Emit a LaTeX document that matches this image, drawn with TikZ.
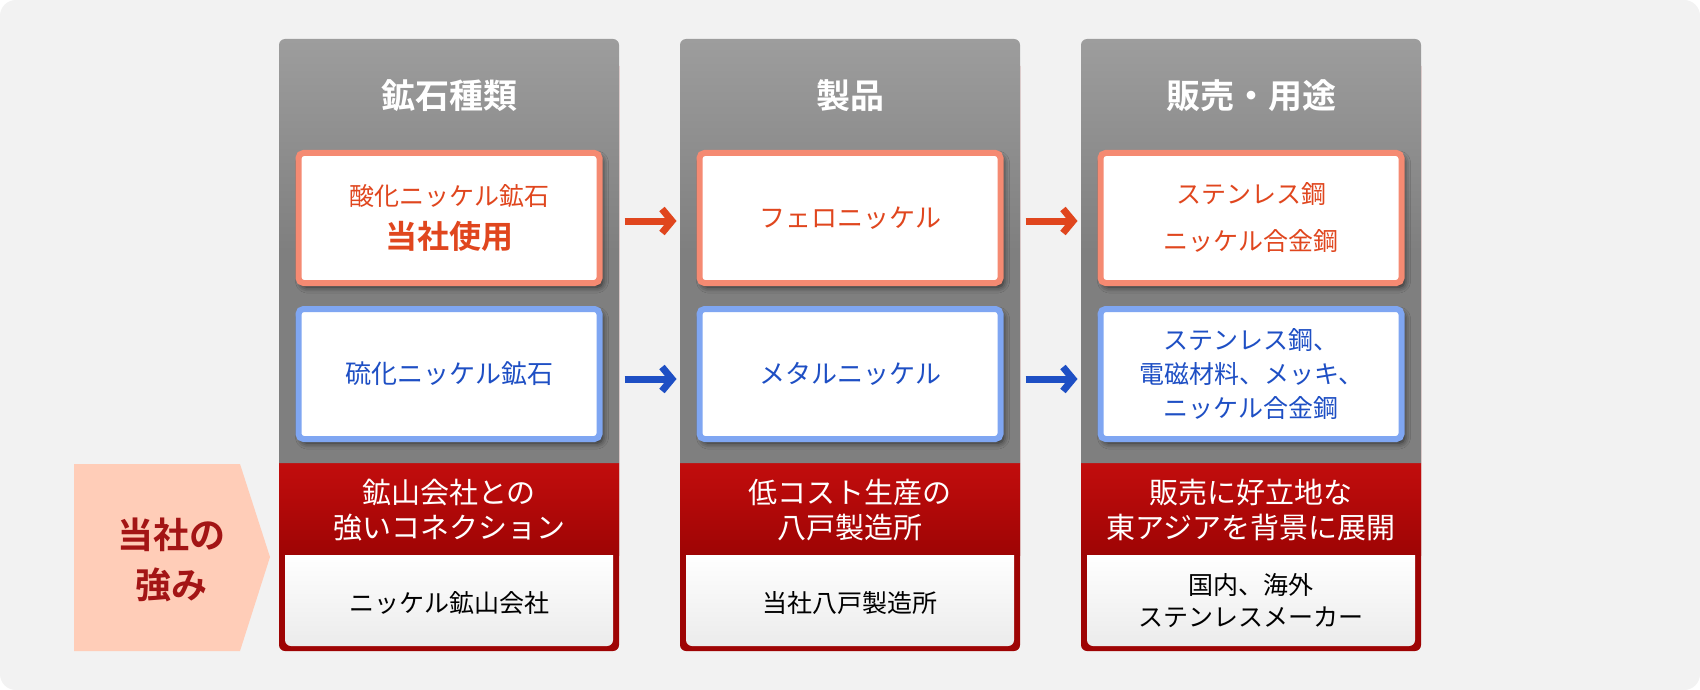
\documentclass[tikz,border=0pt]{standalone}
\usepackage{fontspec}
\setmainfont{Noto Sans CJK JP}[BoldFont={Noto Sans CJK JP Bold}]
\usetikzlibrary{arrows.meta,shadows.blur,calc}
\definecolor{bg}{HTML}{F2F2F2}
\definecolor{graytop}{HTML}{9D9D9D}
\definecolor{graybot}{HTML}{7F7F7F}
\definecolor{redtop}{HTML}{C20D0D}
\definecolor{redbot}{HTML}{9E0404}
\definecolor{oborder}{HTML}{F58A72}
\definecolor{otext}{HTML}{E0461E}
\definecolor{bborder}{HTML}{7FA6F2}
\definecolor{btext}{HTML}{1E4FC4}
\definecolor{peach}{HTML}{FFCDB8}
\definecolor{ptext}{HTML}{A31515}
\definecolor{wbot}{HTML}{EBEBEB}
\begin{document}
\begin{tikzpicture}[x=1pt,y=-1pt,
  head/.style={text=white, font=\bfseries\fontsize{34}{40}\selectfont},
  boxbase/.style={fill=white, line width=6pt, rounded corners=5pt,
    minimum width=301pt, minimum height=130pt, align=center,
    blur shadow={shadow xshift=3pt, shadow yshift=-4pt, shadow blur radius=6pt, shadow opacity=70}},
  obox/.style={boxbase, draw=oborder, text=otext},
  bbox/.style={boxbase, draw=bborder, text=btext},
  redtxt/.style={text=white, align=center, font=\fontsize{29}{35}\selectfont},
  bottxt/.style={text=black, align=center, font=\fontsize{25}{32}\selectfont},
  oarrow/.style={draw=otext, line width=7pt, -{Straight Barb[length=10pt,width=24pt]}},
  barrow/.style={draw=btext, line width=7pt, -{Straight Barb[length=10pt,width=24pt]}}
]
\useasboundingbox (0,0) rectangle (1700,690);
\fill[white] (0,0) rectangle (1700,690);
\fill[bg, rounded corners=16pt] (0,0) rectangle (1700,690);

% columns
\foreach \x in {279,680,1081}{
  \fill[redbot, rounded corners=6pt] (\x,60) rectangle ++(340,591);
  \shade[top color=redtop, bottom color=redbot] (\x,463) rectangle ++(340,92);
  \shade[top color=graytop, bottom color=graybot, middle color=graybot]
    (\x,463) [rounded corners=6pt] -- (\x,39) -- (\x+340,39) [sharp corners] -- (\x+340,463) -- cycle;
  \shade[top color=white, bottom color=wbot]
    (\x+6,555) [rounded corners=6pt] -- (\x+6,646) -- (\x+334,646) [sharp corners] -- (\x+334,555) -- cycle;
}

% left pentagon
\fill[peach] (74,464) -- (240,464) -- (270,557) -- (240,651) -- (74,651) -- cycle;
\node[text=ptext, align=center, font=\bfseries\fontsize{36}{50}\selectfont] (strength) at (171,560) {当社の\\強み};

% headers
\node[head] (h1) at (449,96) {鉱石種類};
\node[head] (h2) at (850,96) {製品};
\node[head] (h3) at (1251,96) {販売・用途};

% boxes
\node[obox] (o1) at (449,218) {{\fontsize{25}{30}\selectfont 酸化ニッケル鉱石}\\[12pt]{\bfseries\fontsize{32}{36}\selectfont 当社使用}};
\node[obox, font=\fontsize{26}{30}\selectfont] (o2) at (850,218) {フェロニッケル};
\node[obox, font=\fontsize{25}{47}\selectfont] (o3) at (1251,218) {ステンレス鋼\\ニッケル合金鋼};

\node[bbox, font=\fontsize{26}{30}\selectfont] (b1) at (449,374) {硫化ニッケル鉱石};
\node[bbox, font=\fontsize{26}{30}\selectfont] (b2) at (850,374) {メタルニッケル};
\node[bbox, font=\fontsize{25}{34}\selectfont] (b3) at (1251,374) {ステンレス鋼、\\電磁材料、メッキ、\\ニッケル合金鋼};

% arrows
\draw[oarrow] ($(o1.east)+(22,3)$) -- ($(o2.west)+(-20,3)$);
\draw[oarrow] ($(o2.east)+(22,3)$) -- ($(o3.west)+(-20,3)$);
\draw[barrow] ($(b1.east)+(22,5)$) -- ($(b2.west)+(-20,5)$);
\draw[barrow] ($(b2.east)+(22,5)$) -- ($(b3.west)+(-20,5)$);

% red section texts
\node[redtxt] (r1) at (449,510) {鉱山会社との\\強いコネクション};
\node[redtxt] (r2) at (850,510) {低コスト生産の\\八戸製造所};
\node[redtxt] (r3) at (1251,510) {販売に好立地な\\東アジアを背景に展開};

% bottom texts
\node[bottxt] (w1) at (449,603) {ニッケル鉱山会社};
\node[bottxt] (w2) at (850,603) {当社八戸製造所};
\node[bottxt] (w3) at (1251,601) {国内、海外\\ステンレスメーカー};
\end{tikzpicture}
\end{document}
